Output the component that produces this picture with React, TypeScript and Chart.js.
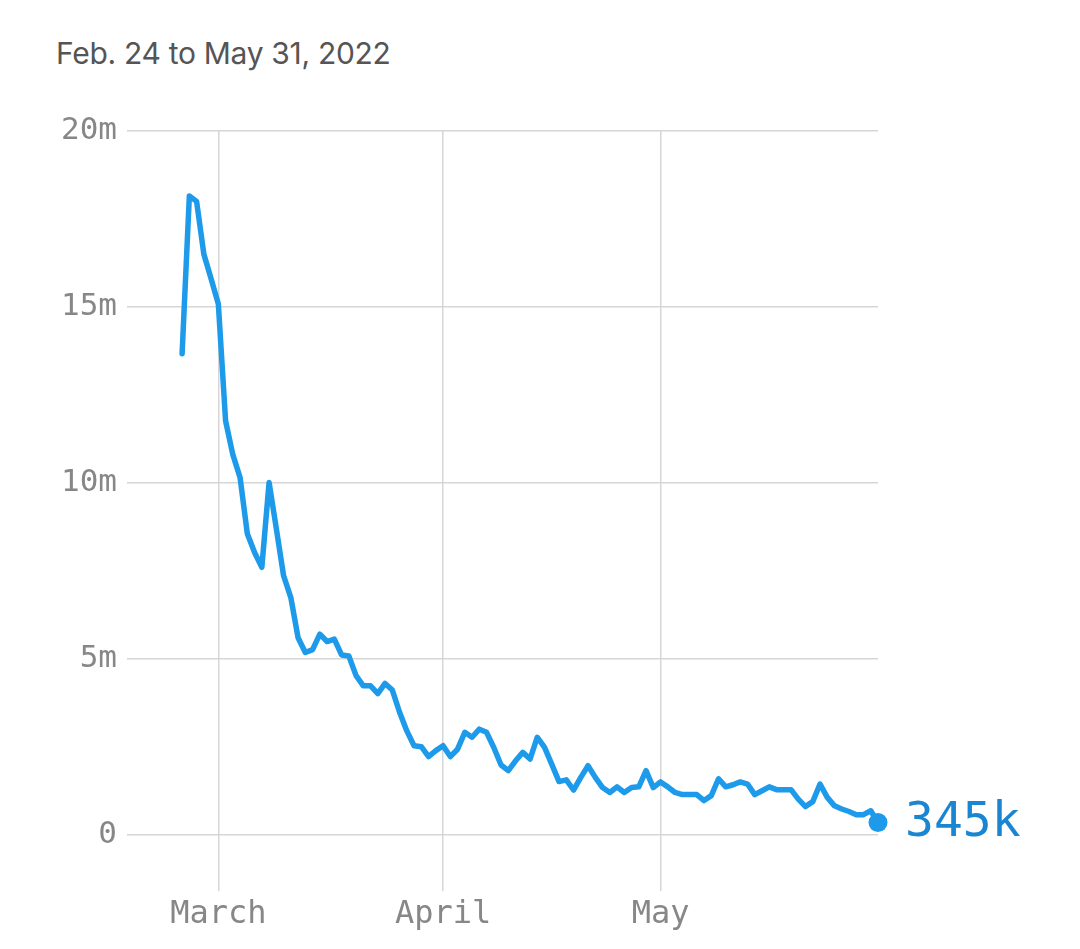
import { useEffect, useRef } from "react"
import { Chart, registerables } from "chart.js"

Chart.register(...registerables)

// days counted from Feb. 24, 2022 (index 0) to May 31, 2022 (index 96)
const values = [
  13.67, 18.15, 18.0, 16.5, 15.8, 15.08, 11.76, 10.8, 10.15, 8.55,
  8.02, 7.6, 10.01, 8.7, 7.36, 6.74, 5.6, 5.18, 5.26, 5.7,
  5.49, 5.56, 5.11, 5.08, 4.52, 4.23, 4.23, 4.01, 4.3, 4.11,
  3.48, 2.95, 2.53, 2.5, 2.22, 2.39, 2.53, 2.22, 2.43, 2.91,
  2.77, 3.0, 2.91, 2.48, 1.98, 1.82, 2.1, 2.34, 2.15, 2.77,
  2.48, 2.0, 1.51, 1.56, 1.27, 1.63, 1.96, 1.63, 1.34, 1.2,
  1.36, 1.2, 1.34, 1.36, 1.82, 1.34, 1.5, 1.36, 1.2, 1.14,
  1.14, 1.14, 0.97, 1.11, 1.59, 1.36, 1.42, 1.5, 1.44, 1.14,
  1.25, 1.36, 1.28, 1.28, 1.28, 1.01, 0.8, 0.94, 1.44, 1.06,
  0.82, 0.73, 0.66, 0.57, 0.57, 0.68, 0.345,
]

const monthDays = [5, 36, 66]
const monthLabels = ["March", "April", "May"]
const yTicks = [0, 5, 10, 15, 20]
const lastLabel = "345k"

const LINE = "#1d9bea"
const MONO = "'DejaVu Sans Mono', monospace"

const endLabel = {
  id: "endLabel",
  afterDatasetsDraw(chart: Chart) {
    const meta = chart.getDatasetMeta(0)
    const pt = meta.data[meta.data.length - 1]
    if (!pt) return
    const ctx = chart.ctx
    ctx.save()
    ctx.font = `48px ${MONO}`
    ctx.fillStyle = "#1a86d2"
    ctx.textAlign = "left"
    ctx.textBaseline = "middle"
    ctx.fillText(lastLabel, pt.x + 27, pt.y + 1)
    ctx.restore()
  },
}

function LineChart() {
  const chartRef = useRef<HTMLCanvasElement>(null)
  const chartInstance = useRef<Chart | null>(null)

  useEffect(() => {
    if (!chartRef.current) return
    if (chartInstance.current) chartInstance.current.destroy()
    const ctx = chartRef.current.getContext("2d")
    if (!ctx) return

    const last = values.length - 1

    chartInstance.current = new Chart(ctx, {
      type: "line",
      data: {
        datasets: [
          {
            data: values.map((v, i) => ({ x: i, y: v })),
            borderColor: LINE,
            backgroundColor: LINE,
            borderWidth: 5.5,
            tension: 0,
            borderJoinStyle: "round",
            borderCapStyle: "round",
            pointRadius: (c: any) => (c.dataIndex === last ? 9.5 : 0),
            pointBorderWidth: 0,
            pointBackgroundColor: LINE,
            clip: false as any,
          },
        ],
      },
      options: {
        animation: false,
        responsive: true,
        maintainAspectRatio: false,
        layout: { padding: { top: 131, right: 202, bottom: 0, left: 0 } },
        plugins: {
          legend: { display: false },
          tooltip: { enabled: false },
        },
        scales: {
          x: {
            type: "linear",
            min: -7.6,
            max: 96,
            afterBuildTicks: (scale: any) => {
              scale.ticks = monthDays.map((d) => ({ value: d }))
            },
            afterFit: (scale: any) => {
              scale.height = 58
            },
            grid: { color: "#d6d6d6", lineWidth: 1.5, drawTicks: false },
            border: { display: false },
            ticks: {
              color: "#878787",
              font: { family: MONO, size: 32 },
              padding: 4,
              maxRotation: 0,
              autoSkip: false,
              callback: (value: any) => {
                const i = monthDays.indexOf(value as number)
                return i >= 0 ? monthLabels[i] : ""
              },
            },
          },
          y: {
            min: -1.6,
            max: 20,
            afterBuildTicks: (scale: any) => {
              scale.ticks = yTicks.map((v) => ({ value: v }))
            },
            afterFit: (scale: any) => {
              scale.width = 127
            },
            grid: { color: "#d6d6d6", lineWidth: 1.5, drawTicks: false },
            border: { display: false },
            ticks: {
              color: "#878787",
              font: { family: MONO, size: 31 },
              padding: 10,
              callback: (value: any) => (value === 0 ? "0" : `${value}m`),
            },
          },
        },
      },
      plugins: [endLabel],
    })

    return () => {
      if (chartInstance.current) {
        chartInstance.current.destroy()
        chartInstance.current = null
      }
    }
  }, [])

  return <canvas ref={chartRef} />
}

export default function App() {
  return (
    <div
      style={{
        position: "absolute",
        left: 0,
        top: 0,
        width: 1080,
        height: 949,
        background: "#fff",
      }}
    >
      <div
        style={{
          position: "absolute",
          left: 56,
          top: 35,
          fontFamily: "Inter, sans-serif",
          fontSize: 30,
          letterSpacing: -0.3,
          color: "#555",
          whiteSpace: "nowrap",
        }}
      >
        Feb. 24 to May 31, 2022
      </div>
      <div style={{ position: "absolute", left: 0, top: 0, width: 1080, height: 949 }}>
        <LineChart />
      </div>
    </div>
  )
}
